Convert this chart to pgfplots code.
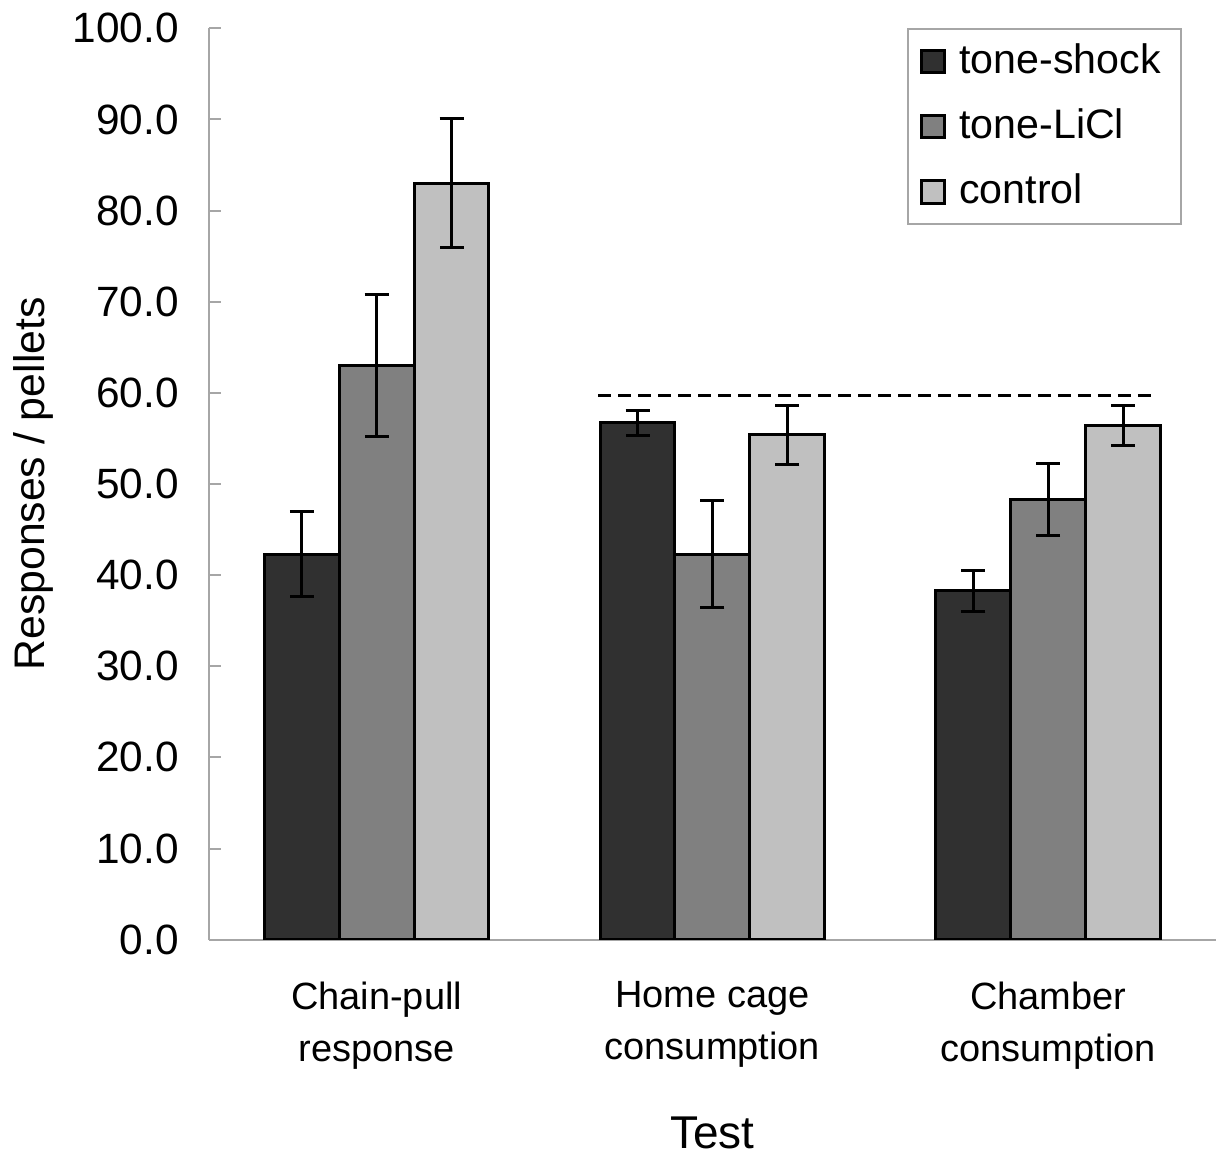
\documentclass[border=0pt]{standalone}
\usepackage{pgfplots}
\pgfplotsset{compat=1.18}
\usepackage{fontspec}
\setmainfont{Liberation Sans}
\definecolor{shock}{RGB}{48,48,48}
\definecolor{licl}{RGB}{128,128,128}
\definecolor{ctrl}{RGB}{192,192,192}

\begin{document}
\begin{tikzpicture}
\begin{axis}[
  width=252pt, height=228pt, scale only axis,
  font=\fontsize{9.5pt}{13pt}\selectfont,
  xmin=-0.5, xmax=2.5,
  ymin=0, ymax=100,
  axis lines*=left,
  axis line style={draw=gray!70, line width=0.5pt},
  xtick={0,1,2},
  xticklabels={{Chain-pull\\response},{Home cage\\consumption},{Chamber\\consumption}},
  xticklabel style={align=center, yshift=-4pt},
  xtick style={draw=none},
  ytick={0,10,...,100},
  ytick style={draw=gray!70, line width=0.5pt},
  tick align=inside, major tick length=3pt,
  yticklabel style={font=\fontsize{10.6pt}{12pt}\selectfont, xshift=-4pt},
  /pgf/number format/.cd, fixed, fixed zerofill, precision=1, assume math mode=true,
  /pgfplots/.cd,
  ylabel={Responses / pellets},
  ylabel style={font=\fontsize{10.7pt}{12pt}\selectfont, yshift=-2pt},
  xlabel={Test},
  xlabel style={font=\fontsize{11.5pt}{12pt}\selectfont, yshift=-5pt},
  ybar, bar width=0.223,
  legend style={at={(rel axis cs:0.966,1)}, anchor=north east,
    draw=gray!70, line width=0.5pt, inner xsep=3pt, inner ysep=1.5pt,
    row sep=3.4pt, font=\fontsize{10.3pt}{12pt}\selectfont,
    cells={anchor=west}},
  legend image code/.code={\draw[#1, line width=0.75pt] (0pt,-2.8pt) rectangle (5.6pt,2.8pt); \path (7pt,0pt);},
  error bars/y dir=both, error bars/y explicit,
  error bars/error bar style={black, line width=0.75pt},
  error bars/error mark options={rotate=90, mark size=3pt, line width=0.75pt, black},
]
\addplot[fill=shock, draw=black, line width=0.75pt, bar shift=-0.223]
  coordinates {(0,42.3) +- (0,4.7) (1,56.7) +- (0,1.35) (2,38.3) +- (0,2.25)};
\addplot[fill=licl, draw=black, line width=0.75pt, bar shift=0]
  coordinates {(0,63.0) +- (0,7.8) (1,42.3) +- (0,5.9) (2,48.3) +- (0,4.0)};
\addplot[fill=ctrl, draw=black, line width=0.75pt, bar shift=0.223]
  coordinates {(0,83.0) +- (0,7.1) (1,55.4) +- (0,3.25) (2,56.4) +- (0,2.2)};
\legend{tone-shock, tone-LiCl, control}
\addplot[sharp plot, black, line width=0.75pt, dash pattern=on 3.25pt off 1.75pt, forget plot, error bars/y dir=none]
  coordinates {(0.66,59.7) (2.32,59.7)};
\end{axis}
\end{tikzpicture}
\end{document}
